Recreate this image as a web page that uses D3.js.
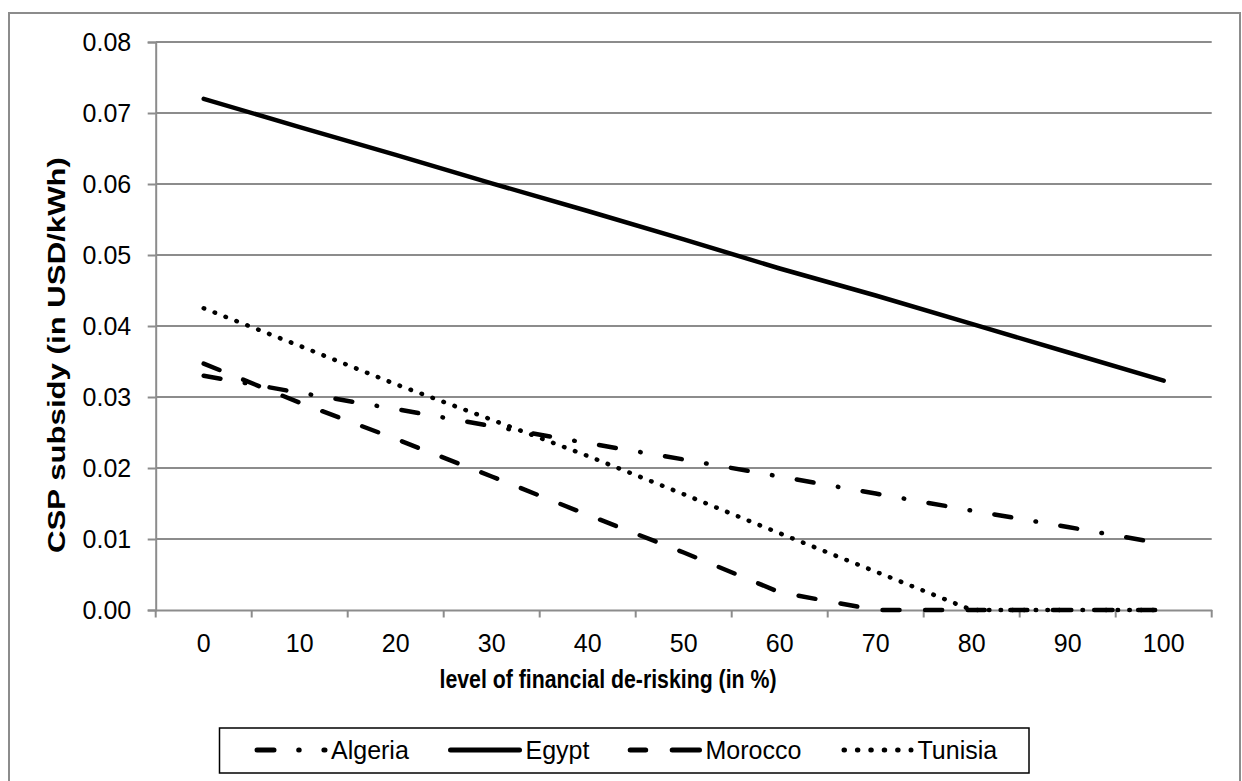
<!DOCTYPE html>
<html>
<head>
<meta charset="utf-8">
<script src="https://cdnjs.cloudflare.com/ajax/libs/d3/7.8.5/d3.min.js"></script>
<style>
  html, body { margin: 0; padding: 0; background: #fff; }
  svg { display: block; }
  text { font-family: "Liberation Sans", Arial, sans-serif; fill: #000; }
</style>
</head>
<body>
<svg id="chart" width="1242" height="781"></svg>
<script>
// ---- data ----
const categories = [0, 10, 20, 30, 40, 50, 60, 70, 80, 90, 100];
const yTicks = [0, 0.01, 0.02, 0.03, 0.04, 0.05, 0.06, 0.07, 0.08];
const seriesNames = ["Algeria", "Egypt", "Morocco", "Tunisia"];
const algeria = [0.0330, 0.0306, 0.0283, 0.0259, 0.0235, 0.0212, 0.0188, 0.0164, 0.0140, 0.0117, 0.0093];
const egypt   = [0.0720, 0.0680, 0.0641, 0.0601, 0.0562, 0.0522, 0.0481, 0.0443, 0.0403, 0.0363, 0.0323];
const morocco = [0.0347, 0.0292, 0.0241, 0.0188, 0.0134, 0.0081, 0.0025, 0.0000, 0.0000, 0.0000, 0.0000];
const tunisia = [0.0425, 0.0372, 0.0318, 0.0268, 0.0217, 0.0163, 0.0108, 0.0054, 0.0000, 0.0000, 0.0000];
const xTitle = "level of financial de-risking (in %)";
const yTitle = "CSP subsidy (in USD/kWh)";

// ---- styles / layout ----
const seriesData = [algeria, egypt, morocco, tunisia];
const dashes = ["17 24.7 0.5 24.7", null, "17 25.6", "0.5 11.2"];
const legendDashes = ["17 24.7 0.5 24.7", null, "15.5 26.5 27.3 100", "0.5 12.9"];
const legendMarkerX = [[257, 325], [450.5, 519.5], [630.2, 699.5], [844, 911]];
const legendTextX = [331, 525.5, 705.5, 917.5];

const svg = d3.select("#chart");
const L = 155.7, R = 1211.7, T = 42, B = 610;
const gridColor = "#8c8c8c";

// outer border
svg.append("rect").attr("x", 9).attr("y", 13).attr("width", 1231).attr("height", 800)
  .attr("fill", "none").attr("stroke", gridColor).attr("stroke-width", 2);

const x = d3.scaleBand().domain(categories).range([L, R]).padding(0);
const y = d3.scaleLinear().domain([0, 0.08]).range([B, T]);
const cx = d => x(d) + x.bandwidth() / 2;

// gridlines
svg.append("g").selectAll("line").data(yTicks.filter(d => d > 0)).join("line")
  .attr("x1", L).attr("x2", R).attr("y1", d => y(d)).attr("y2", d => y(d))
  .attr("stroke", gridColor).attr("stroke-width", 2);

// y axis
const yAxis = svg.append("g").attr("transform", `translate(${L},0)`)
  .call(d3.axisLeft(y).tickValues(yTicks).tickFormat(d3.format(".2f")).tickSize(8).tickPadding(16.5));
yAxis.selectAll("path").attr("stroke", gridColor).attr("stroke-width", 2);
yAxis.selectAll("line").attr("stroke", gridColor).attr("stroke-width", 2);
yAxis.selectAll("text").style("font-family", '"Liberation Sans", Arial, sans-serif').style("font-size", "25px").attr("fill", "#000");

// x axis (labels centered in categories)
const xAxis = svg.append("g").attr("transform", `translate(0,${B})`)
  .call(d3.axisBottom(x).tickSize(0).tickPadding(24).tickSizeOuter(0));
xAxis.selectAll("path").attr("stroke", gridColor).attr("stroke-width", 2);
xAxis.selectAll("text").style("font-family", '"Liberation Sans", Arial, sans-serif').style("font-size", "25px").attr("fill", "#000");
// category boundary ticks
const boundaries = categories.map(c => x(c)).concat([x.range()[1]]);
svg.append("g").selectAll("line").data(boundaries).join("line")
  .attr("x1", d => d).attr("x2", d => d).attr("y1", B).attr("y2", B + 7.5)
  .attr("stroke", gridColor).attr("stroke-width", 2);

// lines
const line = d3.line().x((d, i) => cx(categories[i])).y(d => y(d));
seriesData.forEach((vals, i) => {
  const p = svg.append("path").datum(vals).attr("d", line)
    .attr("fill", "none").attr("stroke", "#000").attr("stroke-width", 4.5)
    .attr("stroke-linecap", "round").attr("stroke-linejoin", "round");
  if (dashes[i]) p.attr("stroke-dasharray", dashes[i]);
});

// axis titles
svg.append("text").attr("x", 608).attr("y", 688).attr("text-anchor", "middle")
  .attr("font-weight", "bold").attr("font-size", 25.5)
  .attr("textLength", 337).attr("lengthAdjust", "spacingAndGlyphs").text(xTitle);
svg.append("text").attr("transform", "translate(65,355) rotate(-90)").attr("text-anchor", "middle")
  .attr("font-weight", "bold").attr("font-size", 23.5)
  .attr("textLength", 396).attr("lengthAdjust", "spacingAndGlyphs").text(yTitle);

// legend
svg.append("rect").attr("x", 219.5).attr("y", 728).attr("width", 809.5).attr("height", 45)
  .attr("fill", "#fff").attr("stroke", "#000").attr("stroke-width", 1.5);
const lg = svg.append("g");
seriesNames.forEach((name, i) => {
  const [a, b] = legendMarkerX[i];
  const m = lg.append("line").attr("x1", a).attr("x2", b).attr("y1", 750).attr("y2", 750)
    .attr("stroke", "#000").attr("stroke-width", 5).attr("stroke-linecap", "round");
  if (legendDashes[i]) m.attr("stroke-dasharray", legendDashes[i]);
  lg.append("text").attr("x", legendTextX[i]).attr("y", 759).attr("font-size", 25).text(name);
});
</script>
</body>
</html>
